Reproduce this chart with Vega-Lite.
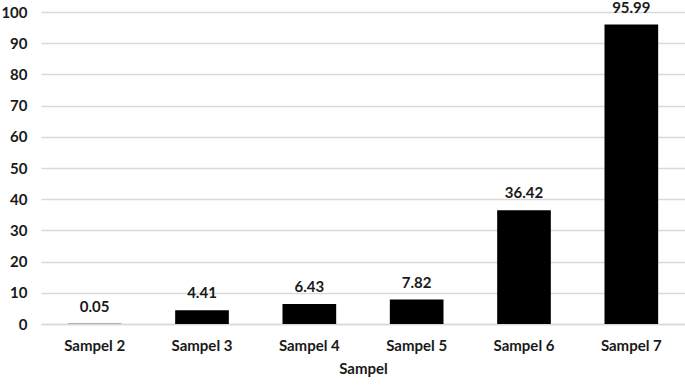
{
  "$schema": "https://vega.github.io/schema/vega-lite/v6.json",
  "autosize": {"type": "none"},
  "width": 644,
  "height": 312,
  "padding": {"left": 41, "top": 12, "right": 0, "bottom": 61},
  "background": "white",
  "config": {"view": {"stroke": null}, "font": "Lato"},
  "data": {"values": [
    {"sampel": "Sampel 2", "value": 0.05},
    {"sampel": "Sampel 3", "value": 4.41},
    {"sampel": "Sampel 4", "value": 6.43},
    {"sampel": "Sampel 5", "value": 7.82},
    {"sampel": "Sampel 6", "value": 36.42},
    {"sampel": "Sampel 7", "value": 95.99}
  ]},
  "encoding": {
    "x": {
      "field": "sampel", "type": "nominal", "sort": null,
      "scale": {"paddingInner": 0.5, "paddingOuter": 0.25},
      "axis": {
        "title": "Sampel", "titleFont": "Lato", "titleFontSize": 15, "titleFontWeight": "bold", "titleColor": "#1a1a1a", "titlePadding": 8,
        "labelAngle": 0, "labelFont": "Lato", "labelFontSize": 15, "labelFontWeight": "bold", "labelColor": "#1a1a1a", "labelPadding": 14,
        "ticks": false, "domainColor": "#d9d9d9", "domainWidth": 1.5, "grid": false
      }
    },
    "y": {
      "field": "value", "type": "quantitative",
      "scale": {"domain": [0, 100], "nice": false},
      "axis": {
        "title": null, "values": [0,10,20,30,40,50,60,70,80,90,100],
        "labelFont": "Lato", "labelFontSize": 15, "labelFontWeight": "bold", "labelColor": "#1a1a1a", "labelPadding": 14,
        "ticks": false, "domain": false, "gridColor": "#d9d9d9", "gridWidth": 1.5
      }
    }
  },
  "layer": [
    {"mark": {"type": "bar", "color": "#000000"}},
    {"mark": {"type": "text", "baseline": "bottom", "dy": -9, "font": "Lato", "fontSize": 15, "fontWeight": "bold", "color": "#1a1a1a"},
     "encoding": {"text": {"field": "value", "type": "quantitative", "format": ".2f"}}}
  ]
}
